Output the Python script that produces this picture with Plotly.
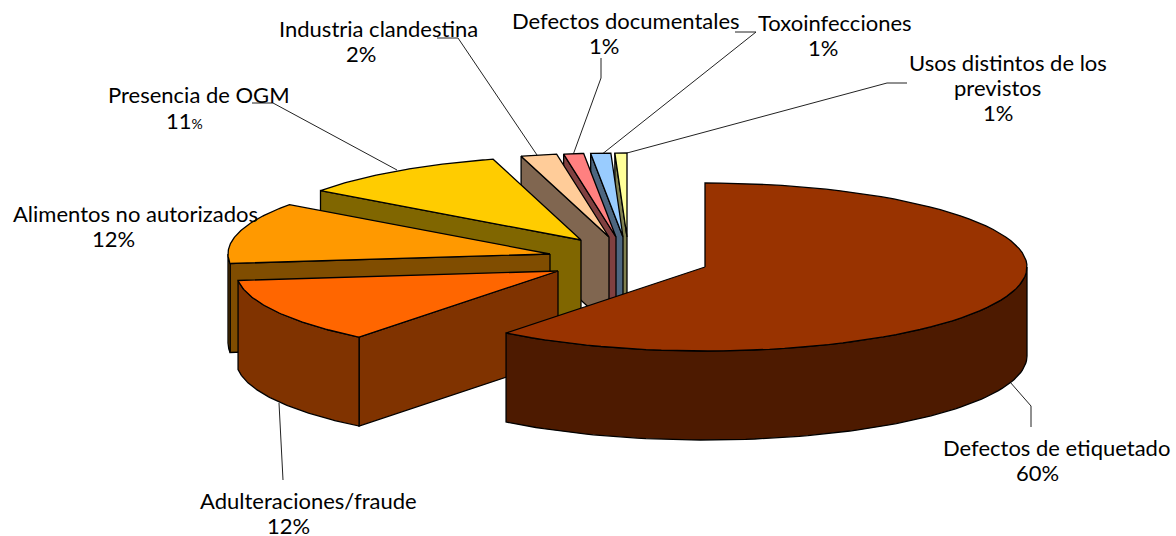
import numpy as np
import plotly.graph_objects as go

# data
categories = ["Defectos de etiquetado", "Adulteraciones/fraude", "Alimentos no autorizados",
              "Presencia de OGM", "Industria clandestina", "Defectos documentales",
              "Toxoinfecciones", "Usos distintos de los"]
percent_labels = ["60%", "12%", "12%", "11<span style='font-size:14px'>%</span>", "2%", "1%", "1%", "1%"]
# share of the circle each slice really covers in the drawing
slice_shares = [60.6, 12.6, 11.8, 10.6, 1.8, 1.0, 1.0, 0.6]

top_colors = ["#993300", "#FF6600", "#FF9900", "#FFCC00", "#FFCC99", "#FF8080", "#99CCFF", "#FFFF99"]
wall_colors = ["#4D1A00", "#803300", "#804D00", "#806600", "#806650", "#804040", "#4D6680", "#808050"]

# layout of the exploded pie, in page pixels
RX, RY, DEPTH = 322, 84, 89
tips = [(705, 267), (558, 271), (550, 254), (581, 240), (609, 237), (616, 237), (623, 237), (627, 237)]

name_pos = [(1056, 447), (308, 500), (135, 213), (199, 94), (378, 28), (626, 20), (835, 22), (1008, 62)]
pct_pos = [(1037, 472), (288, 525), (113, 238), (184, 120), (361, 53), (604, 45), (823, 47), (998, 112)]

leaders = [
    [(1010, 382), (1031, 406), (1031, 427)],
    [(279, 403), (283, 480)],
    [(252, 103), (273, 103), (397, 170)],
    [(437, 38), (458, 38), (537, 155)],
    [(601, 58), (601, 78), (573, 155)],
    [(735, 32), (756, 32), (601, 155)],
    [(627, 153), (887, 83), (907, 83)],
]

FONT = "Lato"
FONT_SIZE = 22


def arc(tip, a0, a1, drop=0):
    t = np.radians(np.linspace(a0, a1, 80))
    return tip[0] + RX * np.sin(t), tip[1] - RY * np.cos(t) + drop


def add_shape(fig, x, y, color, name):
    fig.add_trace(go.Scatter(x=np.append(x, x[0]), y=np.append(y, y[0]), mode="lines", fill="toself",
                             fillcolor=color, line=dict(color="black", width=1.3),
                             name=name, hoverinfo="name", showlegend=False))


fig = go.Figure()

for pts in leaders:
    fig.add_trace(go.Scatter(x=[p[0] for p in pts], y=[p[1] for p in pts], mode="lines",
                             line=dict(color="#222222", width=1), hoverinfo="skip", showlegend=False))

ends = np.cumsum(slice_shares) * 3.6
starts = np.concatenate([[0], ends[:-1]])

# painted back to front, the big slice goes last
for i in range(len(categories) - 1, -1, -1):
    a0, a1, tip = starts[i], ends[i], tips[i]

    # cut face on the starting side, only visible on the left half
    if 180 <= a0 < 360:
        ex, ey = arc(tip, a0, a0)
        add_shape(fig, np.array([tip[0], ex[0], ex[0], tip[0]]),
                  np.array([tip[1], ey[0], ey[0] + DEPTH, tip[1] + DEPTH]), wall_colors[i], categories[i])

    # outer wall, only the front part of the rim
    w0, w1 = max(a0, 90), min(a1, 270)
    if w0 < w1:
        tx, ty = arc(tip, w0, w1)
        bx, by = arc(tip, w1, w0, DEPTH)
        add_shape(fig, np.concatenate([tx, bx]), np.concatenate([ty, by]), wall_colors[i], categories[i])

    ax, ay = arc(tip, a0, a1)
    add_shape(fig, np.concatenate([[tip[0]], ax]), np.concatenate([[tip[1]], ay]), top_colors[i], categories[i])


def add_label(text, pos):
    fig.add_annotation(x=pos[0], y=pos[1], text=text, showarrow=False, xanchor="center", yanchor="middle",
                       font=dict(family=FONT, size=FONT_SIZE, color="black"))


for i in range(len(categories)):
    add_label(categories[i], name_pos[i])
    add_label(percent_labels[i], pct_pos[i])
add_label("previstos", (997, 87))

fig.update_layout(
    width=1176, height=536, autosize=False,
    margin=dict(l=0, r=0, t=0, b=0),
    paper_bgcolor="white", plot_bgcolor="white",
    showlegend=False,
    xaxis=dict(range=[0, 1176], visible=False, fixedrange=True),
    yaxis=dict(range=[536, 0], visible=False, fixedrange=True),
)

# the browser's default body margin would push the figure 8px off
fig.write_html("out.html", config=dict(displayModeBar=False),
               post_script="document.body.style.margin='0';")
